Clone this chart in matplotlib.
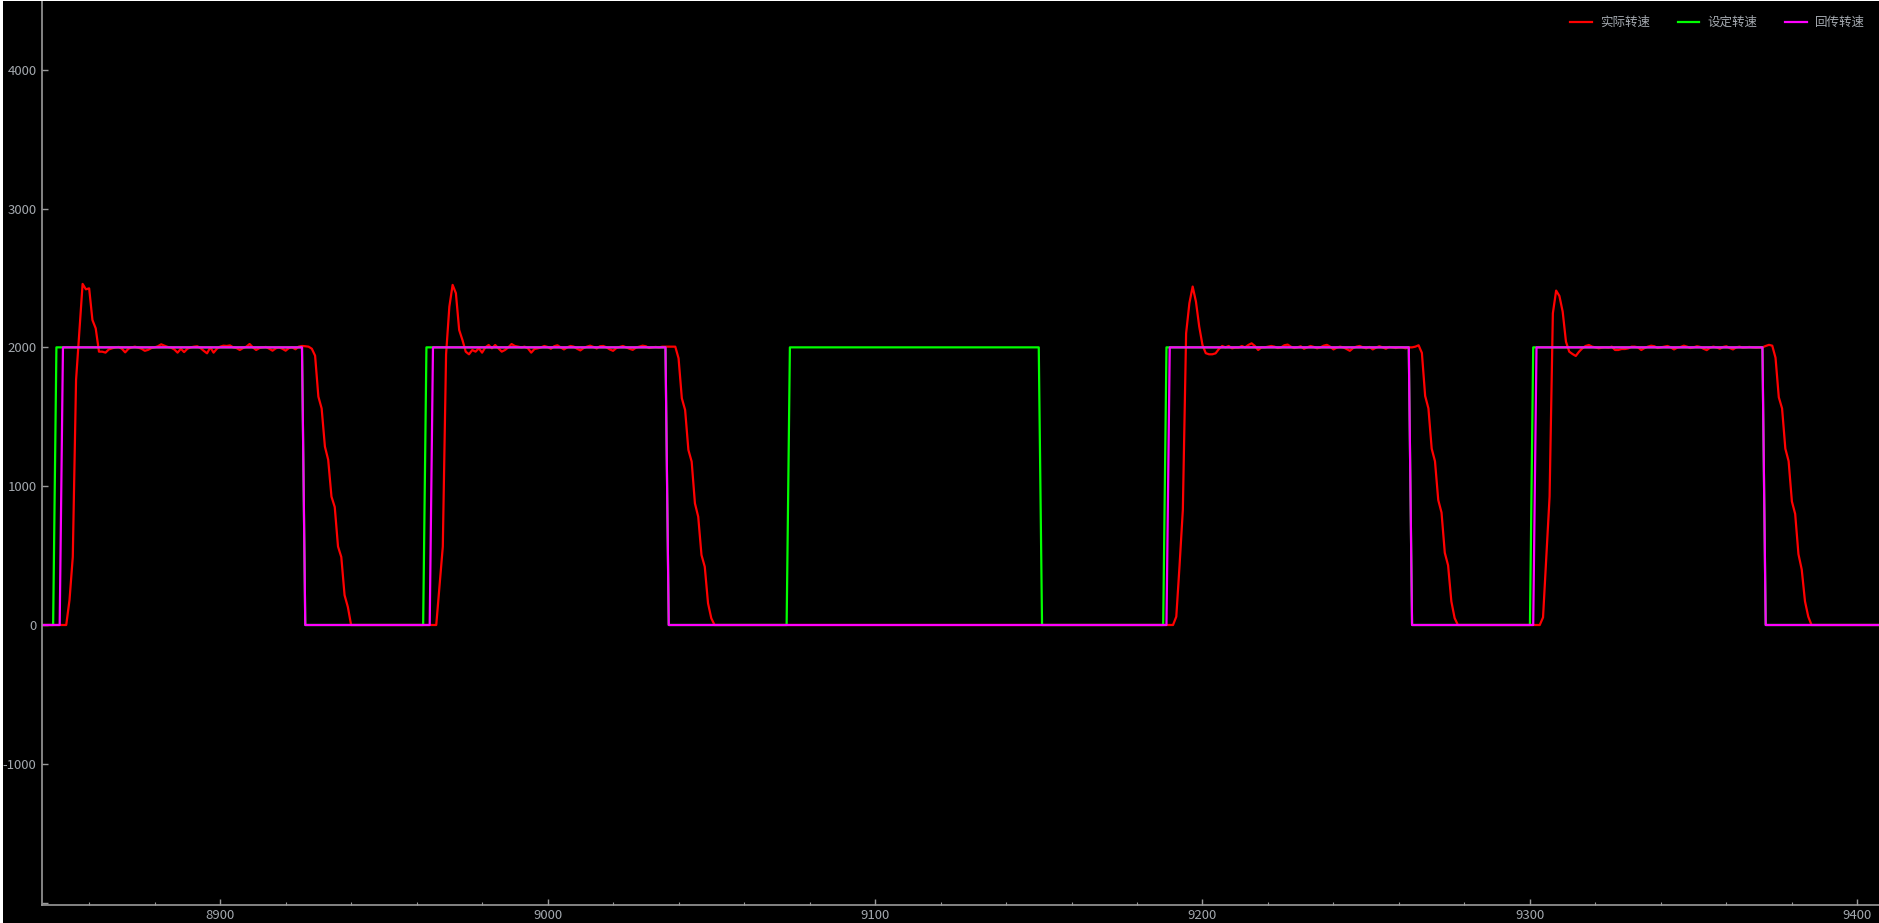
import numpy as np
import matplotlib
matplotlib.use("Agg")
import matplotlib.pyplot as plt
from matplotlib.patches import Rectangle
from matplotlib.ticker import MultipleLocator

plt.rcParams["font.family"] = ["Noto Sans CJK SC", "DejaVu Sans"]

# series names (legend)
labels = ["实际转速", "设定转速", "回传转速"]
colors = ["#ff0000", "#00ff00", "#ff00ff"]

# set speed (green): breakpoints of the step signal
set_x = [8845, 8849, 8850, 8925, 8926, 8962, 8963, 9036, 9037, 9073, 9074,
         9150, 9151, 9188, 9189, 9263, 9264, 9300, 9301, 9371, 9372, 9407]
set_y = [0, 0, 2000, 2000, 0, 0, 2000, 2000, 0, 0, 2000,
         2000, 0, 0, 2000, 2000, 0, 0, 2000, 2000, 0, 0]

# echoed speed (magenta): breakpoints
echo_x = [8845, 8851, 8852, 8925, 8926, 8964, 8965, 9036, 9037, 9189, 9190,
          9263, 9264, 9301, 9302, 9371, 9372, 9407]
echo_y = [0, 0, 2000, 2000, 0, 0, 2000, 2000, 0, 0, 2000,
          2000, 0, 0, 2000, 2000, 0, 0]

# actual speed (red): one sample per unit, pulses start at these x
red_start = [8853, 8966, 9191, 9303]
red_p1 = [0, 180, 490, 1765, 2110, 2457, 2418, 2425, 2197, 2137, 1969, 1969, 1962,
          1985, 1993, 2000, 2003, 1990, 1964, 1990, 2000, 2005, 1998, 1990, 1975,
          1982, 1995, 2000, 2008, 2022, 2012, 2003, 1998, 1985, 1962, 1990, 1966,
          1990, 2000, 2005, 2008, 1995, 1975, 1957, 2000, 1962, 1990, 2005, 2012,
          2010, 2014, 2000, 1995, 1981, 1995, 2005, 2024, 2000, 1981, 1995, 2000,
          2003, 1990, 1976, 1993, 2000, 1990, 1976, 1995, 2000, 1986, 2005, 2010,
          2008, 2005, 1990, 1940, 1645, 1560, 1285, 1190, 925, 850, 565, 490, 215,
          130, 0]
red_p2 = [0, 280, 564, 1950, 2293, 2450, 2390, 2125, 2053, 1969, 1950, 1981, 1969,
          1993, 1962, 2000, 2017, 1993, 2017, 1993, 1969, 1981, 2000, 2024, 2010,
          2005, 2000, 2005, 1993, 1962, 1988, 1993, 2000, 2010, 2003, 1990, 2008,
          2015, 2000, 1985, 2000, 2010, 2005, 1990, 1978, 1995, 2005, 2012, 2003,
          1992, 2008, 2010, 2000, 1985, 1975, 1995, 2003, 2010, 2000, 1990, 1982,
          1998, 2005, 2012, 2008, 1995, 2000, 2003, 2000, 2005, 2005, 2005, 2005,
          2005, 1921, 1633, 1549, 1261, 1177, 876, 780, 504, 420, 156, 48, 0]
red_p4 = [0, 60, 430, 829, 2101, 2318, 2438, 2330, 2150, 2017, 1958, 1950, 1950,
          1957, 1988, 2010, 2000, 2010, 1993, 1998, 1998, 2010, 2000, 2017, 2029,
          2010, 1981, 2000, 2000, 2005, 2010, 2005, 1995, 2000, 2015, 2020, 2005,
          1995, 2000, 2008, 1990, 2000, 2010, 2003, 1993, 2000, 2012, 2018, 2005,
          1985, 1998, 2005, 2000, 1988, 1975, 1995, 2005, 2010, 2000, 1993, 2003,
          1985, 1998, 2008, 2000, 1990, 2003, 2000, 1995, 2000, 2000, 1993, 2000,
          2000, 2005, 2015, 1960, 1650, 1560, 1270, 1180, 900, 810, 520, 430, 170,
          50, 0]
red_p5 = [0, 55, 488, 925, 2245, 2409, 2370, 2257, 2041, 1969, 1952, 1938, 1969,
          1993, 2010, 2017, 2005, 2000, 1993, 1998, 2000, 1998, 2005, 1981, 1981,
          1988, 1988, 1993, 2005, 2005, 2000, 1981, 1995, 2005, 2012, 2008, 1995,
          2000, 2005, 2010, 2000, 1985, 1998, 2003, 2012, 2005, 1995, 2000, 2008,
          2003, 1990, 1980, 1998, 2005, 2000, 1990, 2003, 2008, 1995, 1985, 2000,
          2005, 1998, 2000, 2003, 2000, 1998, 2000, 2000, 2010, 2018, 2012, 1925,
          1640, 1560, 1270, 1180, 890, 800, 510, 400, 170, 60, 0]

red_x = np.arange(8845, 9408)
red_y = np.zeros(len(red_x))
for start, vals in zip(red_start, [red_p1, red_p2, red_p4, red_p5]):
    i = start - red_x[0]
    red_y[i:i + len(vals)] = vals

W, H = 1879, 923
fig = plt.figure(figsize=(W / 100, H / 100), dpi=100, facecolor="black")
ax = fig.add_axes([42 / W, 18 / H, 1 - 42 / W, 1 - 19 / H])
ax.set_facecolor("black")

lw = 1.6
ax.plot(red_x, red_y, color=colors[0], lw=lw, label=labels[0])
ax.plot(set_x, set_y, color=colors[1], lw=lw, label=labels[1])
ax.plot(echo_x, echo_y, color=colors[2], lw=lw, label=labels[2])

ax.set_xlim(8845.6, 9406.6)
ax.set_ylim(-2017, 4495)

axis_col = "#9a9a9a"
text_col = "#a3a8ae"
for side in ["top", "right"]:
    ax.spines[side].set_visible(False)
for side in ["left", "bottom"]:
    ax.spines[side].set_color(axis_col)
    ax.spines[side].set_linewidth(1.2)

ax.xaxis.set_major_locator(MultipleLocator(100))
ax.xaxis.set_minor_locator(MultipleLocator(20))
yt = [-2000, -1000, 0, 1000, 2000, 3000, 4000]
ax.set_yticks(yt)
ax.set_yticklabels([""] + [str(v) for v in yt[1:]])
ax.tick_params(axis="x", which="major", direction="in", length=4, width=1,
               color=axis_col, labelcolor=text_col, labelsize=9.5, pad=3)
ax.tick_params(axis="x", which="minor", direction="in", length=2.5, width=0.8,
               color=axis_col)
ax.tick_params(axis="y", direction="in", length=4.5, width=1,
               color=axis_col, labelcolor=text_col, labelsize=9.5, pad=4)

leg = ax.legend(loc="upper right", bbox_to_anchor=(1870 / W, 1 - 11 / H),
                bbox_transform=fig.transFigure, ncol=3, frameon=False,
                fontsize=9, handlelength=1.75, handletextpad=0.65,
                columnspacing=2.2, borderaxespad=0)
for t in leg.get_texts():
    t.set_color(text_col)

# thin white border of the original screenshot
fig.add_artist(Rectangle((0, 0), 2.5 / W, 1, transform=fig.transFigure,
                         facecolor="white", edgecolor="none"))
fig.add_artist(Rectangle((0, 1 - 1.2 / H), 1, 1.2 / H, transform=fig.transFigure,
                         facecolor="white", edgecolor="none"))

fig.savefig("out.png", dpi=100, facecolor="black")
plt.close(fig)
